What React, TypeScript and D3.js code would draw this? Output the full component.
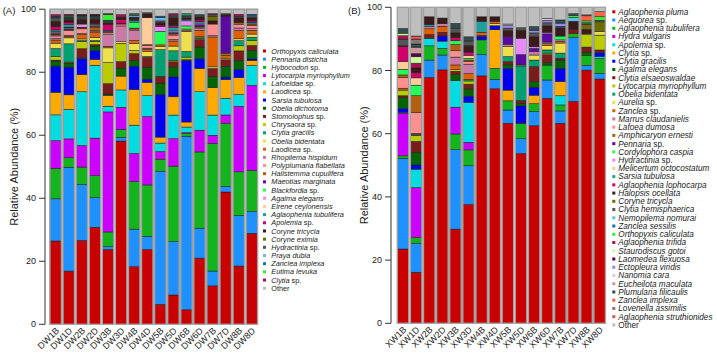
import React from 'react';
import * as d3 from 'd3';

// ---- panel A (DW stations) ----
const samplesA = ['DW1B', 'DW1D', 'DW2B', 'DW2D', 'DW3B', 'DW3D', 'DW4B', 'DW4D', 'DW5B', 'DW5D', 'DW6B', 'DW6D', 'DW7B', 'DW7D', 'DW8B', 'DW8D'];

const speciesA = [
  'Orthopyxis caliculata', 'Pennaria disticha', 'Hybocodon sp.', 'Lytocarpia myriophyllum', 'Lafoeidae sp.',
  'Laodicea sp.', 'Sarsia tubulosa', 'Obelia dichotoma', 'Stomolophus sp.', 'Chrysaora sp.',
  'Clytia gracilis', 'Obelia bidentata', 'Laodicea sp.', 'Rhopilema hispidum', 'Polyplumaria flabellata',
  'Halistemma cupulifera', 'Maeotias marginata', 'Blackfordia sp.', 'Agalma elegans', 'Eirene ceylonensis',
  'Aglaophenia tubulifera', 'Apolemia sp.', 'Coryne tricycla', 'Coryne eximia', 'Hydractinia sp.',
  'Praya dubia', 'Zanclea implexa', 'Eutima levuka', 'Clytia sp.', 'Other',
];

const colorsA = [
  '#c80000', '#1e90ff', '#14b41e', '#cc00ff', '#00dde2', '#ffaa00', '#0000ee', '#006400', '#7a1c1c', '#b8cc00',
  '#00a070', '#eee04a', '#e06000', '#cc79a7', '#ff9090', '#b06010', '#5a0aa0', '#22ff55', '#e88bff', '#ffcc99',
  '#1ea0a0', '#d0006a', '#3a1a1a', '#6b6b00', '#555555', '#66bbee', '#1a70b0', '#33ee33', '#aa1050', '#bebebe',
];

// one row per sample, values in species order (%)
const valuesA: number[][] = [
  [26.5, 13.4, 9.7, 8.8, 8.2, 7.2, 8.3, 1.6, 0.3, 1.1, 2.6, 1.7, 1.0, 0.5, 0.8, 0.5, 0.3, 0, 0.3, 0.3, 0.5, 1.0, 1.5, 0.3, 0.8, 0.2, 0.3, 0.2, 0.6, 1.7],
  [16.9, 33.0, 3.0, 6.0, 9.4, 4.6, 8.8, 1.1, 0.2, 0.3, 5.8, 1.9, 0.5, 0.3, 1.6, 0.3, 0.2, 0, 0.3, 0.2, 0.8, 0.8, 0.8, 0.2, 0.3, 0.2, 0.3, 0.2, 0.5, 1.6],
  [26.5, 17.7, 5.5, 6.8, 17.0, 5.4, 5.1, 0.3, 2.8, 2.3, 0.3, 0.5, 1.4, 0.3, 1.5, 0.3, 0.2, 0, 0.8, 0.3, 0.2, 0.2, 1.0, 0.2, 0.5, 0.2, 0.2, 0.2, 0.3, 1.6],
  [31.0, 9.5, 7.0, 12.0, 23.3, 1.9, 2.8, 1.4, 0.5, 1.0, 0.3, 1.0, 1.5, 0.3, 0.3, 1.2, 0.2, 0, 0.3, 0.3, 0.2, 0.3, 1.2, 0.2, 0.5, 0.2, 0.2, 0.2, 0.3, 1.6],
  [23.8, 0.9, 4.7, 38.2, 1.8, 3.5, 0, 0.4, 3.3, 6.7, 0, 4.7, 0.5, 3.9, 0.5, 0.3, 0, 0, 0, 0, 0.3, 2.0, 0.5, 0, 0.5, 0, 0.3, 1.8, 0.3, 1.4],
  [58.1, 1.2, 2.5, 7.0, 5.5, 4.4, 0, 2.5, 2.1, 5.8, 0, 0.5, 0, 5.0, 0.6, 0.2, 0, 0, 0, 0, 0, 1.2, 0.5, 0, 0.3, 0, 0, 0, 0.8, 1.7],
  [18.3, 11.9, 15.1, 8.9, 9.0, 11.3, 7.4, 1.9, 2.1, 1.0, 0, 2.2, 1.0, 3.1, 0.5, 0.3, 0, 1.9, 0, 0, 0.5, 0.3, 0.5, 0, 0.3, 0.5, 0.3, 0.3, 0, 1.4],
  [23.6, 4.2, 16.2, 21.6, 6.6, 4.2, 1.0, 3.8, 3.1, 0.3, 0, 1.5, 0.8, 0.3, 0.8, 0.3, 0, 0, 0, 8.5, 0, 0, 1.2, 0, 0.4, 0, 0, 0, 0, 1.1],
  [6.3, 42.2, 3.8, 2.4, 2.7, 1.9, 13.4, 3.7, 2.1, 0, 8.5, 1.0, 0.5, 0, 0, 0, 0, 4.3, 1.5, 0, 0, 0.5, 0.8, 0, 0.5, 1.0, 0.5, 0, 0, 2.2],
  [9.3, 16.9, 24.0, 8.7, 7.5, 5.8, 6.3, 3.2, 1.6, 0.5, 3.0, 1.5, 1.6, 0.5, 1.4, 0.5, 0.3, 0, 0.5, 0, 1.2, 0.5, 2.5, 0, 0.5, 0.3, 0, 0, 0.5, 1.4],
  [4.6, 55.1, 0.8, 0.3, 1.8, 1.6, 19.5, 0.3, 0, 0.8, 1.8, 6.3, 0.3, 0, 0.5, 0, 0, 1.0, 1.6, 0, 0.5, 0, 0.5, 0, 0.5, 0, 0.4, 0.4, 0, 1.4],
  [21.0, 9.5, 24.2, 6.9, 12.2, 7.4, 3.1, 3.7, 2.4, 0.3, 0.3, 0.3, 2.0, 0.5, 0.5, 0.3, 0.5, 0, 0.5, 0, 0.5, 0.5, 1.0, 0, 0.4, 0, 0.3, 0, 0, 1.7],
  [12.2, 4.7, 40.5, 2.6, 6.4, 8.7, 0, 3.6, 2.5, 0, 0, 0.5, 9.5, 0.4, 3.7, 0, 0, 0, 0, 0, 0, 0, 1.0, 1.5, 0.5, 0, 0, 0, 0.3, 1.4],
  [41.9, 1.8, 20.0, 2.6, 5.3, 5.9, 0.8, 3.4, 2.1, 0, 0, 0.5, 0.8, 0, 0, 0.8, 11.7, 0, 0, 0, 0, 0, 0.5, 0, 0.3, 0, 0, 0, 0, 1.4],
  [18.3, 15.9, 13.7, 20.6, 3.7, 5.3, 2.6, 2.7, 3.1, 1.6, 1.6, 0.6, 2.6, 0.8, 1.2, 0.5, 0, 0, 0, 0, 0, 0, 1.5, 0, 0.5, 0, 0, 0, 0.6, 1.6],
  [28.9, 6.9, 13.1, 27.0, 6.3, 1.6, 0.5, 2.7, 1.6, 1.6, 1.0, 1.0, 1.2, 0.5, 1.0, 0.5, 0, 0, 0, 0, 0.5, 0.5, 1.0, 0, 0.3, 0.3, 0.5, 0, 0, 1.6],
];

// ---- panel B (XW stations) ----
const samplesB = ['XW1B', 'XW1D', 'XW2B', 'XW2D', 'XW3B', 'XW3D', 'XW4B', 'XW4D', 'XW5B', 'XW5D', 'XW6B', 'XW6D', 'XW7B', 'XW7D', 'XW8B', 'XW8D'];

const speciesB = [
  'Aglaophenia pluma', 'Aequorea sp.', 'Aglaophenia tubulifera', 'Hydra vulgaris', 'Apolemia sp.',
  'Clytia sp.', 'Clytia gracilis', 'Agalma elegans', 'Clytia elsaeoswaldae', 'Lytocarpia myriophyllum',
  'Obelia bidentata', 'Aurelia sp.', 'Zanclea sp.', 'Marrus claudanielis', 'Lafoea dumosa',
  'Amphicaryon ernesti', 'Pennaria sp.', 'Cordylophora caspia', 'Hydractinia sp.', 'Melicertum octocostatum',
  'Sarsia tubulosa', 'Aglaophenia lophocarpa', 'Halopsis ocellata', 'Coryne tricycla', 'Clytia hemisphaerica',
  'Nemopilema nomurai', 'Zanclea sessilis', 'Orthopyxis caliculata', 'Aglaophenia trifida', 'Staurodiscus gotoi',
  'Laomedea flexuosa', 'Ectopleura viridis', 'Nanomia cara', 'Eucheilota maculata', 'Plumularia filicaulis',
  'Zanclea implexa', 'Lovenella assimilis', 'Aglaophenia struthionides', 'Other',
];

const colorsB = [
  '#c80000', '#1e90ff', '#14b41e', '#cc00ff', '#00dde2', '#ffaa00', '#0000ee', '#006400', '#7a1c1c', '#b8cc00',
  '#00a070', '#eee04a', '#e06000', '#cc79a7', '#ff9090', '#b06010', '#5a0aa0', '#22ff55', '#e88bff', '#ffcc99',
  '#1ea0a0', '#d0006a', '#3a1a1a', '#6b6b00', '#555555', '#66bbee', '#1a70b0', '#33ee33', '#aa1050', '#ccff99',
  '#550055', '#9988ee', '#ddccdd', '#cc9999', '#2f4f4f', '#ff6347', '#887777', '#dd5555', '#bebebe',
];

const valuesB: number[][] = [
  [23.5, 28.7, 0.8, 13.5, 0.3, 0, 1.2, 3.5, 0.5, 1.8, 0, 0, 0.6, 0, 3.4, 0.8, 0, 1.8, 0, 2.4, 0, 4.8, 0.3, 0, 2.0, 0, 0, 0, 1.1, 0.8, 0, 0, 0, 0, 1.5, 0, 0, 0, 6.7],
  [16.0, 9.1, 1.8, 15.6, 5.8, 0, 1.3, 4.0, 3.4, 1.9, 0.3, 0, 0.3, 0, 6.5, 5.3, 0, 3.3, 0, 2.3, 0, 1.6, 1.5, 0, 0, 0, 0, 0, 1.5, 2.0, 1.0, 0, 0, 2.0, 1.0, 0, 1.5, 1.0, 9.0],
  [77.8, 5.5, 4.5, 0, 2.4, 0, 0, 0, 1.2, 0, 0, 0, 1.8, 0.8, 0, 0, 0, 0, 0, 0, 0.5, 0, 2.5, 0, 0, 0, 0, 0, 0, 0, 0, 0, 0, 0, 0, 0, 0, 0, 3.0],
  [80.2, 4.7, 2.1, 0, 2.3, 0, 1.6, 0, 1.2, 0, 0, 0, 1.9, 0.8, 0, 0, 0, 0, 0, 0, 0, 0, 1.8, 0, 0, 0, 0, 0, 0, 0, 0, 0, 0, 0, 0, 0, 0, 0, 3.4],
  [29.9, 25.2, 5.0, 8.5, 8.4, 0, 0, 2.0, 1.0, 0.5, 0, 0, 1.5, 2.5, 2.0, 2.0, 0, 1.2, 0, 0, 0, 1.0, 1.5, 0, 1.5, 0, 0, 0, 0, 0, 0, 0, 0, 0, 1.5, 0, 0, 0, 5.1],
  [37.4, 12.2, 5.0, 2.4, 12.6, 0, 1.9, 2.3, 1.5, 1.0, 0.5, 0, 1.8, 3.0, 0.8, 0.5, 0, 0.5, 0, 1.0, 0, 1.0, 2.0, 0, 1.5, 0, 0, 0, 0, 0, 0, 0, 0, 0, 1.3, 0, 0, 0, 9.3],
  [78.3, 6.8, 4.6, 0, 0, 0, 1.1, 0, 0.3, 0, 0, 0, 1.0, 0, 0, 0, 0, 0, 0, 0, 3.5, 0, 1.4, 0, 0, 0, 0, 0, 0, 0, 0, 0, 0, 0, 0, 0, 0, 0, 3.0],
  [74.2, 3.0, 3.5, 0, 0, 12.2, 1.3, 0, 0, 0, 0, 0.6, 0.8, 0, 0, 0, 0, 0, 0, 0, 0, 0, 1.4, 0, 0, 0, 0, 0, 0, 0, 0, 0, 0, 0, 0, 0, 0, 0, 3.0],
  [63.3, 4.2, 2.9, 0, 0, 3.4, 6.9, 1.1, 1.0, 0, 1.6, 3.2, 0, 0.7, 0, 0, 2.5, 0, 0, 0, 0, 0, 1.8, 0, 0.8, 0, 0, 0, 0, 0, 0, 0.8, 0.5, 0, 0, 0, 0, 0, 5.3],
  [53.9, 4.7, 4.9, 0, 0, 0, 5.5, 0.8, 0.9, 0, 11.0, 0.3, 0, 0, 0, 0, 3.3, 0, 5.2, 0, 0, 0, 2.5, 0, 0.8, 0, 0, 0, 0, 0, 0, 0, 0, 0, 0, 0, 0, 0, 6.5],
  [62.5, 4.5, 2.5, 0, 0, 2.7, 2.5, 1.8, 4.7, 0, 2.1, 1.6, 0, 1.1, 0, 0, 1.0, 0, 0.5, 0, 0, 0, 3.2, 0, 1.2, 0, 0, 0, 0, 0, 0, 0.8, 0, 0, 1.2, 0, 0, 0, 6.1],
  [71.2, 5.8, 4.7, 0, 0, 0, 0, 0.8, 2.5, 0.5, 1.0, 1.5, 0.5, 0.5, 0, 0, 2.6, 0, 0.5, 0, 0, 0, 2.0, 0, 1.0, 0, 0, 0, 0, 0, 0, 0.8, 0.6, 0, 0, 0, 0, 0, 3.5],
  [63.3, 3.9, 1.9, 0, 2.9, 4.5, 4.2, 2.6, 0.6, 0, 1.6, 3.2, 0.5, 0.5, 0, 0, 0, 1.2, 0, 0, 0, 0, 2.6, 0, 0, 0, 0.5, 0, 0, 0, 0, 1.0, 0, 0, 1.0, 0, 0, 0, 4.0],
  [70.1, 20.1, 1.3, 0, 0, 0, 0, 0, 1.3, 0, 0, 0, 0, 0, 0, 0, 0, 0, 0, 0, 0, 0, 2.6, 0, 0, 1.2, 0, 0.6, 0, 0, 0, 0, 0, 0, 0.6, 0, 0, 0, 2.0],
  [80.2, 1.5, 3.2, 0, 0, 0, 0, 1.0, 1.6, 3.9, 0, 0.3, 0, 0, 0, 0, 0, 0, 0, 0, 0, 0, 1.4, 1.6, 0.5, 0, 0, 0.6, 0, 0, 0, 0, 0, 0, 0, 1.6, 0, 0.3, 2.4],
  [77.3, 1.8, 4.7, 0, 0.6, 0, 1.2, 0, 0.9, 4.7, 0, 1.1, 0, 0, 0, 0, 0, 0, 0, 0, 0, 0, 0, 3.1, 0.5, 0, 0, 1.1, 0, 0, 0, 0, 0, 0, 0, 1.6, 0, 0, 1.4],
];

const yTicks = [0, 20, 40, 60, 80, 100];

const FONT = '"Liberation Sans", Arial, sans-serif';

function SpeciesName({ name }: { name: string }) {
  if (name === 'Other') return <>{name}</>;
  if (name.endsWith(' sp.')) {
    return (
      <>
        <tspan fontStyle="italic">{name.slice(0, -4)}</tspan>
        {' sp.'}
      </>
    );
  }
  return <tspan fontStyle="italic">{name}</tspan>;
}

interface PanelProps {
  tag: string;
  tagX: number;
  samples: string[];
  species: string[];
  colors: string[];
  rows: number[][];
  barRange: [number, number];
  yRange: [number, number];
  axisX: number;
  titleX: number;
  legendSqX: number;
  legendTextX: number;
  legendTop: number;
  legendStep: number;
  legendFont: number;
}

function Panel(p: PanelProps) {
  const x = d3.scaleBand<string>().domain(p.samples).range(p.barRange).padding(0.12);
  const y = d3.scaleLinear().domain([0, 1]).range(p.yRange);
  const keys = d3.range(p.species.length);
  const series = d3
    .stack<number[], number>()
    .keys(keys)
    .value((row, k) => row[k])
    .offset(d3.stackOffsetExpand)(p.rows);
  const legendY = d3
    .scalePoint<number>()
    .domain(keys)
    .range([p.legendTop, p.legendTop + p.legendStep * (keys.length - 1)]);
  const bw = x.bandwidth();
  const y0 = y(0);
  const y1 = y(1);

  return (
    <g fontFamily={FONT}>
      <text x={p.tagX} y={13.5} fontSize={9.5} fill="#222">{p.tag}</text>

      {/* stacked segments */}
      {series.map((s) => (
        <g key={s.key} fill={p.colors[s.key]}>
          {s.map((d, i) => {
            const h = y(d[0]) - y(d[1]);
            if (h <= 0) return null;
            return (
              <rect key={i} x={x(p.samples[i])} y={y(d[1])} width={bw} height={h}
                stroke="#1a1a1a" strokeWidth={0.5} />
            );
          })}
        </g>
      ))}
      {/* bar frames */}
      {p.samples.map((s) => (
        <rect key={s} x={x(s)} y={y1} width={bw} height={y0 - y1}
          fill="none" stroke="#a3a3a3" strokeWidth={1.4} />
      ))}

      {/* y axis */}
      <line x1={p.axisX} x2={p.axisX} y1={y0} y2={y1} stroke="#333" strokeWidth={1} />
      {yTicks.map((t) => (
        <g key={t}>
          <line x1={p.axisX - 6} x2={p.axisX} y1={y(t / 100)} y2={y(t / 100)} stroke="#333" strokeWidth={1} />
          <text x={p.axisX - 9} y={y(t / 100)} dy="0.35em" textAnchor="end" fontSize={9} fill="#222">{t}</text>
        </g>
      ))}
      <text transform={`translate(${p.titleX},${(y0 + y1) / 2}) rotate(-90)`} textAnchor="middle"
        fontSize={11} fill="#222">Relative Abundance (%)</text>

      {/* sample labels */}
      {p.samples.map((s) => (
        <text key={s} transform={`translate(${(x(s) ?? 0) + bw / 2 + 4},${y0 + 7}) rotate(-45)`}
          textAnchor="end" fontSize={9} fill="#222">{s}</text>
      ))}

      {/* legend */}
      {p.species.map((name, k) => (
        <g key={k}>
          <rect x={p.legendSqX} y={(legendY(k) ?? 0) - 1.5} width={3} height={3} fill={p.colors[k]} />
          <text x={p.legendTextX} y={legendY(k)} dy="0.35em" fontSize={p.legendFont} fill="#222">
            <SpeciesName name={name} />
          </text>
        </g>
      ))}
    </g>
  );
}

export default function App() {
  return (
    <svg width={717} height={353} style={{ position: 'absolute', left: 0, top: 0, background: '#fff' }}>
      <Panel tag="(A)" tagX={2.7} samples={samplesA} species={speciesA} colors={colorsA} rows={valuesA}
        barRange={[48.4, 259.2]} yRange={[324.3, 9.2]} axisX={45} titleX={18}
        legendSqX={263} legendTextX={271.3} legendTop={51} legendStep={8.18} legendFont={7.3} />
      <Panel tag="(B)" tagX={348} samples={samplesB} species={speciesB} colors={colorsB} rows={valuesB}
        barRange={[395.7, 607]} yRange={[323.3, 7.3]} axisX={391} titleX={367.5}
        legendSqX={612.3} legendTextX={618.3} legendTop={11.8} legendStep={8.24} legendFont={8.2} />
    </svg>
  );
}
